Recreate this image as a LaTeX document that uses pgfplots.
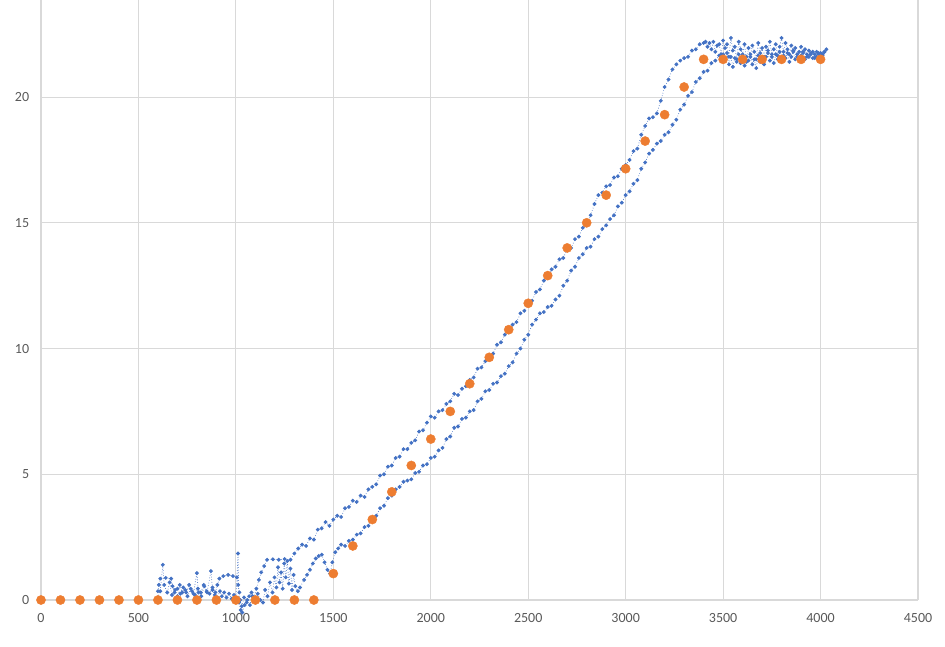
\documentclass[border=0pt]{standalone}
\usepackage{pgfplots}
\pgfplotsset{compat=1.18}
\usepackage{fontspec}
\setmainfont{Carlito}
\definecolor{xlblue}{HTML}{4472C4}
\definecolor{xlorange}{HTML}{ED7D31}
\definecolor{gridc}{HTML}{D9D9D9}
\definecolor{labc}{HTML}{595959}
\begin{document}
\begin{tikzpicture}
\begin{axis}[
  scale only axis, width=877pt, height=600pt,
  xmin=0, xmax=4500, ymin=0, ymax=23.86,
  xtick={0,500,...,4500}, ytick={0,5,10,15,20},
  grid=major, major grid style={gridc, line width=1.1pt},
  axis line style={draw=none},
  major tick length=0pt,
  tick label style={font=\fontsize{14}{16}\selectfont, text=labc},
  /pgf/number format/assume math mode=true,
  /pgf/number format/1000 sep={},
  xticklabel style={yshift=-10pt},
  yticklabel style={xshift=-8.3pt},
  clip=false,
]
\coordinate (ll) at (rel axis cs:0,0);
\coordinate (ur) at (rel axis cs:1,1);
\addplot[xlblue, line width=0.9pt, dash pattern=on 0pt off 2.6pt, line cap=round,
  mark=*, mark size=1.45pt, mark options={solid, draw=none, fill=xlblue}] coordinates {
(600,0.35)(605,0.6)(612,0.85)(640,0.88)(668,0.85)(675,0.55)(685,0.3)(700,0.45)(715,0.25)(730,0.5)(745,0.3)(760,0.6)(775,0.35)(790,0.2)(805,0.45)(820,0.3)(835,0.6)(850,0.35)(865,0.25)(880,0.5)(895,0.3)(905,0.6)(915,0.85)(935,0.95)(960,1.0)(985,0.95)(1005,0.9)(1012,0.6)(1018,0.3)(1022,0.0)(1030,-0.25)(1042,0.1)(1055,-0.1)(1068,0.15)(1080,0.3)(1092,0.1)(1105,0.45)(1118,0.8)(1130,1.1)(1145,1.35)(1160,1.6)(1190,1.62)(1220,1.6)(1250,1.63)(1280,1.6)(1300,1.85)
(1320,2.05)(1340,2.2)(1360,2.15)(1380,2.45)(1400,2.4)(1420,2.8)(1440,2.85)(1460,3.1)(1480,2.95)(1500,3.2)(1520,3.35)(1540,3.3)(1560,3.65)(1580,3.7)(1600,3.95)(1620,3.9)(1640,4.15)(1660,4.1)(1680,4.4)(1700,4.5)(1720,4.6)(1740,4.95)(1760,5.0)(1780,5.3)(1800,5.35)(1820,5.65)(1840,5.7)(1860,6.0)(1880,6.0)(1900,6.25)(1920,6.35)(1940,6.7)(1960,6.75)(1980,7.05)(2000,7.3)(2020,7.25)(2040,7.5)(2060,7.55)(2080,7.8)(2100,7.9)(2120,8.2)(2140,8.15)(2160,8.4)(2180,8.5)(2200,8.75)(2220,8.85)(2240,9.2)(2260,9.25)(2280,9.5)(2300,9.7)(2320,9.8)(2340,10.15)(2360,10.25)(2380,10.55)(2400,10.65)(2420,10.95)(2440,11.05)(2460,11.4)(2480,11.5)(2500,11.8)(2520,11.9)(2540,12.25)(2560,12.35)(2580,12.7)(2600,12.8)(2620,13.15)(2640,13.25)(2660,13.55)(2680,13.6)(2700,13.95)(2720,14.0)(2740,14.35)(2760,14.45)(2780,14.8)(2800,14.9)(2820,15.3)(2840,15.75)(2860,16.1)(2880,16.2)(2900,16.45)(2920,16.5)(2940,16.8)(2960,16.85)(2980,17.15)(3000,17.3)(3020,17.5)(3040,17.85)(3060,17.95)(3080,18.5)(3100,18.85)(3120,19.15)(3140,19.2)(3160,19.35)(3180,19.85)(3200,20.4)(3220,20.7)(3240,21.1)(3260,21.3)(3280,21.45)(3300,21.55)(3320,21.6)(3340,21.85)(3360,21.9)(3380,22.1)(3400,22.15)
(3410,22.2)(3420,22.0)(3430,22.15)(3440,21.9)(3450,22.2)(3460,21.8)(3470,22.05)(3480,22.1)(3490,21.7)(3500,22.25)(3510,21.95)(3520,22.1)(3530,21.6)(3540,22.35)(3550,21.85)(3560,22.0)(3570,21.5)(3580,22.2)(3590,21.9)(3600,21.7)(3610,22.1)(3620,21.4)(3630,21.95)(3640,21.6)(3650,22.05)(3660,21.8)(3670,21.5)(3680,22.15)(3690,21.75)(3700,21.95)(3710,21.6)(3720,22.0)(3730,21.85)(3740,22.2)(3750,21.7)(3760,21.9)(3770,22.1)(3780,21.65)(3790,22.0)(3800,22.35)(3810,21.8)(3820,22.15)(3830,21.9)(3840,21.7)(3850,22.05)(3860,21.85)(3870,21.95)(3880,21.6)(3890,21.8)(3900,22.0)(3910,21.75)(3920,21.9)(3930,21.6)(3940,21.85)(3950,21.7)(3960,21.8)(3970,21.55)(3980,21.8)(3990,21.7)(4000,21.75)(4010,21.65)(4020,21.8)(4030,21.9)
};
\addplot[xlblue, line width=0.9pt, dash pattern=on 0pt off 2.6pt, line cap=round,
  mark=*, mark size=1.45pt, mark options={solid, draw=none, fill=xlblue}] coordinates {
(600,0.1)(612,0.35)(625,1.4)(632,0.6)(648,0.3)(660,0.7)(672,0.2)(688,0.4)(700,0.15)(712,0.6)(725,0.3)(740,0.4)(752,0.15)(768,0.45)(782,0.25)(800,1.07)(808,0.3)(822,0.15)(838,0.55)(852,0.3)(872,1.15)(880,0.4)(892,0.2)(905,0.1)(918,0.35)(928,0.15)(940,0.3)(952,0.1)(965,0.25)(978,0.05)(990,0.2)(1000,0.0)(1011,1.85)(1016,-0.1)(1025,-0.4)(1033,-0.5)(1045,-0.2)(1058,0.0)(1072,-0.2)(1085,0.15)(1100,-0.05)(1112,0.25)(1125,0.0)(1139,-0.1)(1150,0.4)(1162,0.15)(1175,0.7)(1188,0.3)(1198,0.9)(1208,0.5)(1216,1.3)(1224,0.7)(1232,1.1)(1240,0.45)(1248,1.45)(1256,0.9)(1264,1.55)(1272,0.65)(1280,1.25)(1288,0.4)(1296,1.0)(1305,0.55)(1318,0.35)(1329,0.5)(1350,0.8)(1365,1.0)(1380,1.2)(1395,1.45)(1410,1.65)(1425,1.75)(1441,1.8)(1455,1.5)(1470,1.2)(1483,1.05)(1495,1.5)(1510,1.9)(1525,2.05)
(1540,2.2)(1560,2.15)(1580,2.35)(1600,2.4)(1620,2.6)(1640,2.65)(1660,2.9)(1680,2.95)(1700,3.25)(1720,3.35)(1740,3.65)(1760,3.75)(1780,4.05)(1800,4.15)(1820,4.4)(1840,4.5)(1860,4.7)(1880,4.75)(1900,4.8)(1920,5.05)(1940,5.1)(1960,5.35)(1980,5.4)(2000,5.65)(2020,5.7)(2040,5.95)(2060,6.05)(2080,6.4)(2100,6.5)(2120,6.85)(2140,6.9)(2160,7.2)(2180,7.25)(2200,7.5)(2220,7.55)(2240,7.9)(2260,8.0)(2280,8.3)(2300,8.35)(2320,8.6)(2340,8.65)(2360,8.9)(2380,9.0)(2400,9.3)(2420,9.45)(2440,9.8)(2460,10.0)(2480,10.35)(2500,10.55)(2520,10.95)(2540,11.15)(2560,11.4)(2580,11.45)(2600,11.65)(2620,11.7)(2640,11.95)(2660,12.1)(2680,12.5)(2700,12.7)(2720,13.1)(2740,13.25)(2760,13.6)(2780,13.75)(2800,14.0)(2820,14.05)(2840,14.35)(2860,14.45)(2880,14.75)(2900,14.9)(2920,15.15)(2940,15.3)(2960,15.65)(2980,15.8)(3000,16.1)(3020,16.25)(3040,16.55)(3060,16.7)(3080,17.15)(3100,17.4)(3120,17.75)(3140,17.9)(3160,18.15)(3180,18.25)(3200,18.5)(3220,18.6)(3240,18.9)(3260,19.1)(3280,19.5)(3300,19.7)(3320,20.05)(3340,20.2)(3360,20.6)(3380,20.75)(3400,21.0)(3420,21.05)(3440,21.35)(3460,21.45)(3480,21.65)(3500,21.7)
(3510,21.5)(3520,21.75)(3530,21.3)(3540,21.6)(3550,21.2)(3560,21.55)(3570,21.4)(3580,21.7)(3590,21.35)(3600,21.55)(3610,21.25)(3620,21.6)(3630,21.45)(3640,21.7)(3650,21.3)(3660,21.5)(3670,21.15)(3680,21.65)(3690,21.4)(3700,21.55)(3710,21.3)(3720,21.6)(3730,21.75)(3740,21.45)(3750,21.6)(3760,21.35)(3770,21.7)(3780,21.5)(3790,21.8)(3800,21.45)(3810,21.65)(3820,21.55)(3830,21.75)(3840,21.4)(3850,21.6)(3860,21.8)(3870,21.5)(3880,21.7)(3890,21.55)(3900,21.65)(3910,21.8)(3920,21.5)(3930,21.7)(3940,21.6)(3950,21.75)(3960,21.55)(3970,21.7)(3980,21.6)(3990,21.75)(4000,21.6)(4010,21.7)(4020,21.8)
};
\addplot[xlorange, only marks, mark=*, mark size=4.6pt, mark options={solid, fill=xlorange, draw=none}] coordinates {
(0,0)(100,0)(200,0)(300,0)(400,0)(500,0)(600,0)(700,0)(800,0)(900,0)(1000,0)(1100,0)(1200,0)(1300,0)(1400,0)
(1500,1.05)(1600,2.15)(1700,3.2)(1800,4.3)(1900,5.35)(2000,6.4)(2100,7.5)(2200,8.6)(2300,9.65)(2400,10.75)(2500,11.8)(2600,12.9)(2700,14.0)(2800,15.0)(2900,16.1)(3000,17.15)(3100,18.25)(3200,19.3)(3300,20.4)(3400,21.5)
(3500,21.5)(3600,21.5)(3700,21.5)(3800,21.5)(3900,21.5)(4000,21.5)
};
\end{axis}
\pgfresetboundingbox
\path ([shift={(-41pt,-46pt)}]ll) rectangle ([shift={(27pt,0pt)}]ur);
\end{tikzpicture}
\end{document}
